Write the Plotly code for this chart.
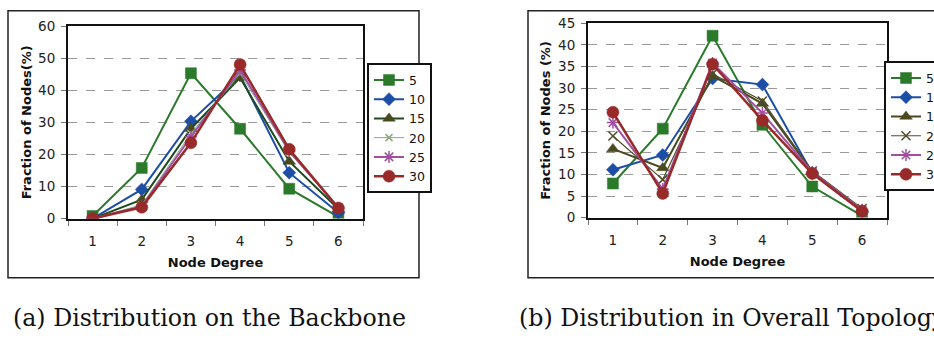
import plotly.graph_objects as go

# Visible window is 934 x 339; the figure is a bit wider so that the right-hand
# legend and caption are cut by the window edge, as in the reference.
VIEW_W = 934
W, H = 962, 339

degrees = [1, 2, 3, 4, 5, 6]
series_names = ["5", "10", "15", "20", "25", "30"]

# (a) Distribution on the Backbone
backbone_5 = [0.8, 15.8, 45.3, 28.0, 9.3, 0.5]
backbone_10 = [0.0, 9.1, 30.3, 44.6, 14.3, 1.8]
backbone_15 = [0.0, 5.9, 28.0, 43.9, 17.8, 3.0]
backbone_20 = [0.0, 4.3, 26.5, 45.3, 20.6, 3.3]
backbone_25 = [0.0, 3.8, 25.5, 46.3, 21.1, 3.3]
backbone_30 = [0.0, 3.5, 23.6, 48.0, 21.6, 3.3]

# (b) Distribution in Overall Topology
overall_5 = [7.9, 20.6, 42.1, 21.5, 7.2, 0.4]
overall_10 = [11.1, 14.5, 32.2, 30.8, 10.3, 1.5]
overall_15 = [15.9, 11.5, 32.8, 26.4, 10.6, 1.8]
overall_20 = [18.9, 8.8, 33.3, 27.0, 10.8, 2.1]
overall_25 = [22.0, 6.6, 35.8, 24.2, 10.5, 1.8]
overall_30 = [24.4, 5.6, 35.5, 22.5, 10.2, 1.5]

y_ticks_a = [0, 10, 20, 30, 40, 50, 60]
y_ticks_b = [0, 5, 10, 15, 20, 25, 30, 35, 40, 45]

caption_a = "(a) Distribution on the Backbone"
caption_b = "(b) Distribution in Overall Topology"

styles_a = [
    dict(color="#2b7a2b", symbol="square", size=11, width=2),
    dict(color="#1d4ea6", symbol="diamond", size=10, width=2),
    dict(color="#1f4a1f", mcolor="#47491f", symbol="triangle-up", size=11, width=2),
    dict(color="#8ea883", symbol="x-thin-open", size=7, width=1),
    dict(color="#a150a1", symbol="asterisk-open", size=10, width=2),
    dict(color="#992a2a", symbol="circle", size=12, width=2.5),
]
styles_b = [
    dict(color="#2b7a2b", symbol="square", size=11, width=2),
    dict(color="#1d4ea6", symbol="diamond", size=10, width=2),
    dict(color="#4a4a1e", symbol="triangle-up", size=11, width=2),
    dict(color="#4e4e2c", symbol="x-thin-open", size=9, width=1.2),
    dict(color="#a150a1", symbol="asterisk-open", size=10, width=2),
    dict(color="#992a2a", symbol="circle", size=12, width=2.5),
]

fig = go.Figure()


def add_series(data, styles, xa, ya, legend):
    for name, vals, st in zip(series_names, data, styles):
        mcol = st.get("mcolor", st["color"])
        open_sym = st["symbol"].endswith("open")
        fig.add_trace(go.Scatter(
            x=degrees, y=vals, name=name, mode="lines+markers",
            xaxis=xa, yaxis=ya, legend=legend,
            line=dict(color=st["color"], width=st["width"]),
            marker=dict(symbol=st["symbol"], size=st["size"], color=mcol,
                        line=dict(color=mcol, width=1.5 if open_sym else 0.5)),
        ))


add_series([backbone_5, backbone_10, backbone_15, backbone_20, backbone_25, backbone_30],
           styles_a, "x", "y", "legend")
add_series([overall_5, overall_10, overall_15, overall_20, overall_25, overall_30],
           styles_b, "x2", "y2", "legend2")


def px(x):
    return x / W


def py(y):
    return 1 - y / H


tickfont = dict(family="DejaVu Sans", size=13.5, color="#222")
titlefont = dict(family="DejaVu Sans", size=13, color="#111", weight="bold")

xcommon = dict(
    range=[0.5, 6.5], tickvals=degrees, ticktext=[str(d) for d in degrees],
    ticks="", showgrid=False, zeroline=False, showline=True, linecolor="#111",
    linewidth=2, mirror=True, tickfont=tickfont, ticklabelstandoff=9,
    minor=dict(tickvals=[0.5, 1.5, 2.5, 3.5, 4.5, 5.5, 6.5], ticks="outside",
               ticklen=5, tickcolor="#777", tickwidth=1, showgrid=False),
    title=dict(text="Node Degree", font=titlefont, standoff=10),
    fixedrange=True,
)
ycommon = dict(
    showgrid=True, gridcolor="#999", griddash="dash", gridwidth=1,
    zeroline=False, showline=True, linecolor="#111", linewidth=2, mirror=True,
    ticks="outside", ticklen=5, tickcolor="#777", tickfont=tickfont,
    ticklabelstandoff=3,
)
legend_common = dict(
    xanchor="left", yanchor="top", bordercolor="#111", borderwidth=2,
    bgcolor="white", font=dict(family="DejaVu Sans", size=12.5, color="#111"),
    tracegroupgap=0, itemwidth=30,
)

fig.update_layout(
    width=W, height=H, margin=dict(l=0, r=0, t=0, b=0),
    paper_bgcolor="white", plot_bgcolor="white",
    xaxis=dict(domain=[px(68), px(363)], anchor="y", **xcommon),
    yaxis=dict(domain=[py(221), py(19)], anchor="x", range=[0, 60], tickvals=y_ticks_a,
               title=dict(text="Fraction of Nodes(%)", font=titlefont, standoff=4),
               **ycommon),
    xaxis2=dict(domain=[px(588), px(887)], anchor="y2", **xcommon),
    yaxis2=dict(domain=[py(220), py(16)], anchor="x2", range=[0, 45], tickvals=y_ticks_b,
                title=dict(text="Fraction of Nodes (%)", font=titlefont, standoff=5),
                **ycommon),
    legend=dict(x=px(367), y=py(58), **legend_common),
    legend2=dict(x=px(884), y=py(56), **legend_common),
    shapes=[
        dict(type="rect", xref="paper", yref="paper", x0=px(8), x1=px(419),
             y0=py(283), y1=py(3), line=dict(color="#222", width=1.5)),
        dict(type="rect", xref="paper", yref="paper", x0=px(528), x1=px(955),
             y0=py(283), y1=py(3), line=dict(color="#222", width=1.5)),
    ],
    annotations=[
        dict(text=caption_a, xref="paper", yref="paper", x=px(11), y=py(325),
             xanchor="left", yanchor="middle", showarrow=False,
             font=dict(family="DejaVu Serif", size=23.7, color="#111")),
        dict(text=caption_b, xref="paper", yref="paper", x=px(517), y=py(325),
             xanchor="left", yanchor="middle", showarrow=False,
             font=dict(family="DejaVu Serif", size=23.7, color="#111")),
    ],
)

fig.write_html(
    "out.html",
    post_script="document.body.style.margin='0';document.body.style.overflow='hidden';"
                "document.documentElement.style.overflow='hidden';",
)
